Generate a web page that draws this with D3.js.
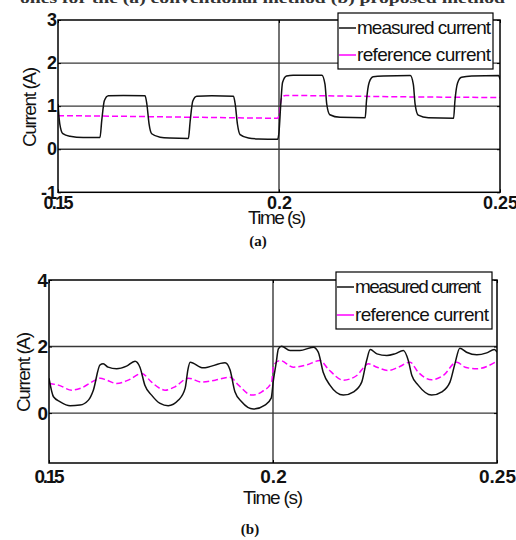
<!DOCTYPE html>
<html>
<head>
<meta charset="utf-8">
<script src="https://cdn.jsdelivr.net/npm/d3@7"></script>
<style>
  body { margin: 0; background: #fff; }
  svg { display: block; }
</style>
</head>
<body>
<svg id="chart" width="516" height="540"></svg>
<script>
// ---- data ----
const xTicks = [0.15, 0.2, 0.25];
const xTickLabels = ["0.15", "0.2", "0.25"];
const seriesNames = ["measured current", "reference current"];
const topYTicks = [-1, 0, 1, 2, 3];
const bottomYTicks = [0, 2, 4];

// (a) conventional method: [time (s), current (A)]
const topMeasured = [
  [0.1500, 1.05], [0.1504, 0.59], [0.1511, 0.36], [0.1527, 0.30], [0.1557, 0.27],
  [0.1595, 0.27], [0.1599, 0.67], [0.1605, 1.13], [0.1614, 1.24], [0.1648, 1.25],
  [0.1697, 1.24], [0.1701, 1.05], [0.1706, 0.59], [0.1712, 0.36], [0.1731, 0.28],
  [0.1753, 0.26], [0.1795, 0.25], [0.1799, 0.65], [0.1805, 1.12], [0.1814, 1.23],
  [0.1848, 1.24], [0.1897, 1.23], [0.1901, 1.04], [0.1906, 0.58], [0.1912, 0.34],
  [0.1931, 0.26], [0.1953, 0.24], [0.1997, 0.23], [0.2000, 0.40], [0.2004, 1.05],
  [0.2008, 1.55], [0.2017, 1.70], [0.2032, 1.72], [0.2097, 1.72], [0.2104, 1.51],
  [0.2108, 1.05], [0.2115, 0.80], [0.2138, 0.74], [0.2195, 0.73], [0.2198, 1.13],
  [0.2204, 1.55], [0.2213, 1.68], [0.2236, 1.70], [0.2297, 1.71], [0.2304, 1.50],
  [0.2308, 1.04], [0.2315, 0.79], [0.2338, 0.73], [0.2395, 0.72], [0.2398, 1.12],
  [0.2404, 1.54], [0.2413, 1.67], [0.2436, 1.70], [0.2497, 1.71], [0.2500, 1.62]
];
const topReference = [
  [0.1500, 0.78], [0.1600, 0.77], [0.1750, 0.75], [0.1900, 0.73], [0.1997, 0.72],
  [0.2001, 0.85], [0.2004, 1.10], [0.2008, 1.22], [0.2015, 1.25], [0.2100, 1.24],
  [0.2250, 1.22], [0.2500, 1.20]
];

// (b) proposed method
const bottomMeasured = [
  [0.1500, 1.05], [0.1510, 0.49], [0.1525, 0.34], [0.1547, 0.22], [0.1569, 0.24],
  [0.1588, 0.39], [0.1599, 0.69], [0.1614, 1.45], [0.1621, 1.48], [0.1632, 1.38],
  [0.1651, 1.33], [0.1673, 1.41], [0.1692, 1.56], [0.1703, 1.38], [0.1714, 0.84],
  [0.1729, 0.54], [0.1748, 0.29], [0.1766, 0.22], [0.1789, 0.39], [0.1804, 0.75],
  [0.1810, 1.30], [0.1815, 1.53], [0.1844, 1.36], [0.1893, 1.51], [0.1904, 1.30],
  [0.1915, 0.64], [0.1930, 0.34], [0.1956, 0.12], [0.1982, 0.24], [0.1996, 0.45],
  [0.2001, 1.00], [0.2007, 1.50], [0.2012, 1.93], [0.2019, 2.01], [0.2038, 1.88],
  [0.2060, 1.88], [0.2090, 1.98], [0.2101, 1.83], [0.2112, 1.23], [0.2127, 0.84],
  [0.2157, 0.54], [0.2180, 0.64], [0.2198, 0.93], [0.2209, 1.58], [0.2217, 1.91],
  [0.2232, 1.78], [0.2254, 1.73], [0.2272, 1.78], [0.2291, 1.88], [0.2302, 1.58],
  [0.2310, 1.13], [0.2324, 0.84], [0.2354, 0.54], [0.2377, 0.64], [0.2395, 0.93],
  [0.2406, 1.48], [0.2417, 1.95], [0.2432, 1.83], [0.2455, 1.75], [0.2477, 1.81],
  [0.2494, 1.91], [0.2500, 1.83]
];
const bottomReference = [
  [0.1500, 0.89], [0.1521, 0.84], [0.1551, 0.69], [0.1573, 0.76], [0.1603, 0.99],
  [0.1614, 1.05], [0.1629, 0.99], [0.1651, 0.89], [0.1677, 0.99], [0.1707, 1.19],
  [0.1729, 0.93], [0.1748, 0.74], [0.1759, 0.69], [0.1781, 0.79], [0.1811, 1.05],
  [0.1841, 0.93], [0.1871, 0.99], [0.1904, 1.08], [0.1923, 0.84], [0.1953, 0.54],
  [0.1975, 0.64], [0.1997, 0.93], [0.2001, 1.43], [0.2016, 1.58], [0.2045, 1.38],
  [0.2075, 1.45], [0.2105, 1.58], [0.2123, 1.33], [0.2157, 0.99], [0.2187, 1.13],
  [0.2213, 1.48], [0.2232, 1.38], [0.2257, 1.28], [0.2280, 1.38], [0.2306, 1.53],
  [0.2324, 1.23], [0.2354, 1.00], [0.2380, 1.13], [0.2410, 1.53], [0.2429, 1.38],
  [0.2455, 1.33], [0.2496, 1.53]
];

// ---- layout ----
const FONT = "'Liberation Sans', Arial, sans-serif";
const panels = [
  {
    measured: topMeasured, reference: topReference,
    yDomain: [-1, 3], yTicks: topYTicks,
    left: 58, right: 500, top: 20, bottom: 192.3,
    tickFont: 18, xPad: 4,
    ylabel: { x: 36, y: 107, len: 80 },
    xlabel: { x: 277, y: 224, len: 58 },
    legend: { x: 338, y: 13, w: 155, h: 56, rows: [34, 61], lens: [134, 134] },
    caption: { text: "(a)", x: 258, y: 246 },
    zeroLen: 30
  },
  {
    measured: bottomMeasured, reference: bottomReference,
    yDomain: [-1.5, 4], yTicks: bottomYTicks,
    left: 49, right: 497, top: 280, bottom: 463,
    tickFont: 19, xPad: 6.5,
    ylabel: { x: 30, y: 372, len: 80 },
    xlabel: { x: 273, y: 504, len: 60 },
    legend: { x: 336, y: 272, w: 156, h: 57, rows: [293, 321], lens: [126, 134] },
    caption: { text: "(b)", x: 250, y: 534 },
    zeroLen: 30
  }
];

function main() {
  const svg = d3.select("#chart");
  svg.append("rect").attr("width", 516).attr("height", 540).attr("fill", "#fff");

  // caption line of the page above, cut by the crop
  svg.append("text")
    .attr("x", 20).attr("y", 2.5)
    .attr("font-family", "'Liberation Serif', 'Times New Roman', serif")
    .attr("font-weight", "bold")
    .attr("font-size", 14)
    .attr("textLength", 485)
    .attr("lengthAdjust", "spacingAndGlyphs")
    .attr("fill", "#333")
    .text("ones for the (a) conventional method (b) proposed method");

  panels.forEach((p, i) => renderPanel(svg, p, i));
}

function renderPanel(svg, p, i) {
  const x = d3.scaleLinear().domain([xTicks[0], xTicks[xTicks.length - 1]]).range([p.left, p.right]);
  const y = d3.scaleLinear().domain(p.yDomain).range([p.bottom, p.top]);
  const g = svg.append("g");

  // grid
  g.append("g")
    .attr("stroke", "#383838")
    .attr("stroke-width", 1.4)
    .selectAll("line")
    .data(p.yTicks.filter(v => v > p.yDomain[0] && v < p.yDomain[1]))
    .join("line")
    .attr("x1", p.left).attr("x2", p.right)
    .attr("y1", d => y(d)).attr("y2", d => y(d));

  g.append("g")
    .attr("stroke", "#383838")
    .attr("stroke-width", 1.4)
    .selectAll("line")
    .data(xTicks.slice(1, -1))
    .join("line")
    .attr("x1", d => x(d)).attr("x2", d => x(d))
    .attr("y1", p.top).attr("y2", p.bottom);

  // curves
  const clipId = "clip" + i;
  g.append("clipPath").attr("id", clipId)
    .append("rect")
    .attr("x", p.left).attr("y", p.top)
    .attr("width", p.right - p.left).attr("height", p.bottom - p.top);

  const line = d3.line()
    .x(d => x(d[0]))
    .y(d => y(d[1]))
    .curve(d3.curveMonotoneX);

  const curves = g.append("g").attr("clip-path", `url(#${clipId})`).attr("fill", "none");
  curves.append("path")
    .attr("d", line(p.reference))
    .attr("stroke", "#ff00ff")
    .attr("stroke-width", 1.5)
    .attr("stroke-dasharray", "6,3");
  curves.append("path")
    .attr("d", line(p.measured))
    .attr("stroke", "#111")
    .attr("stroke-width", 1.5);

  // ticks (MATLAB style, inward, on all sides)
  const tickStyle = sel => {
    sel.select(".domain").remove();
    sel.selectAll(".tick line").attr("stroke", "#000");
    sel.selectAll("text")
      .attr("fill", "#111")
      .attr("font-family", FONT)
      .attr("font-weight", "bold")
      .attr("font-size", p.tickFont);
  };

  g.append("g")
    .attr("transform", `translate(0,${p.bottom})`)
    .call(d3.axisBottom(x).tickValues(xTicks).tickSize(-3).tickPadding(p.xPad)
      .tickFormat((d, k) => xTickLabels[k]))
    .call(tickStyle)
    .call(s => s.selectAll("text")
      .filter((d, k) => k === 0)
      .attr("textLength", p.zeroLen)
      .attr("lengthAdjust", "spacing"));

  g.append("g")
    .attr("transform", `translate(0,${p.top})`)
    .call(d3.axisTop(x).tickValues(xTicks).tickSize(-3).tickFormat(""))
    .call(tickStyle);

  g.append("g")
    .attr("transform", `translate(${p.left},0)`)
    .call(d3.axisLeft(y).tickValues(p.yTicks).tickSize(-3).tickPadding(1)
      .tickFormat(d => String(d)))
    .call(tickStyle);

  g.append("g")
    .attr("transform", `translate(${p.right},0)`)
    .call(d3.axisRight(y).tickValues(p.yTicks).tickSize(-3).tickFormat(""))
    .call(tickStyle);

  // frame
  g.append("rect")
    .attr("x", p.left).attr("y", p.top)
    .attr("width", p.right - p.left).attr("height", p.bottom - p.top)
    .attr("fill", "none")
    .attr("stroke", "#000")
    .attr("stroke-width", 1.5);

  // axis labels
  g.append("text")
    .attr("transform", `translate(${p.ylabel.x},${p.ylabel.y}) rotate(-90)`)
    .attr("text-anchor", "middle")
    .attr("font-family", FONT)
    .attr("font-size", 19)
    .attr("textLength", p.ylabel.len)
    .attr("lengthAdjust", "spacing")
    .attr("fill", "#111")
    .text("Current (A)");

  g.append("text")
    .attr("x", p.xlabel.x).attr("y", p.xlabel.y)
    .attr("text-anchor", "middle")
    .attr("font-family", FONT)
    .attr("font-size", 19)
    .attr("textLength", p.xlabel.len)
    .attr("lengthAdjust", "spacing")
    .attr("fill", "#111")
    .text("Time (s)");

  // legend
  const L = p.legend;
  const lg = g.append("g");
  lg.append("rect")
    .attr("x", L.x).attr("y", L.y)
    .attr("width", L.w).attr("height", L.h)
    .attr("fill", "#fff")
    .attr("stroke", "#000")
    .attr("stroke-width", 1.2);

  const colors = ["#111", "#ff00ff"];
  const rows = lg.selectAll("g.row")
    .data(seriesNames)
    .join("g")
    .attr("class", "row");

  rows.append("line")
    .attr("x1", L.x + 1).attr("x2", L.x + 18)
    .attr("y1", (d, k) => L.rows[k] - 6).attr("y2", (d, k) => L.rows[k] - 6)
    .attr("stroke", (d, k) => colors[k])
    .attr("stroke-width", 1.5);

  rows.append("text")
    .attr("x", L.x + 19)
    .attr("y", (d, k) => L.rows[k])
    .attr("font-family", FONT)
    .attr("font-size", 19)
    .attr("textLength", (d, k) => L.lens[k])
    .attr("lengthAdjust", "spacing")
    .attr("fill", "#111")
    .text(d => d);

  // sub-figure caption
  g.append("text")
    .attr("x", p.caption.x).attr("y", p.caption.y)
    .attr("text-anchor", "middle")
    .attr("font-family", "'Liberation Serif', 'Times New Roman', serif")
    .attr("font-weight", "bold")
    .attr("font-size", 15)
    .attr("fill", "#111")
    .text(p.caption.text);
}

main();
</script>
</body>
</html>
